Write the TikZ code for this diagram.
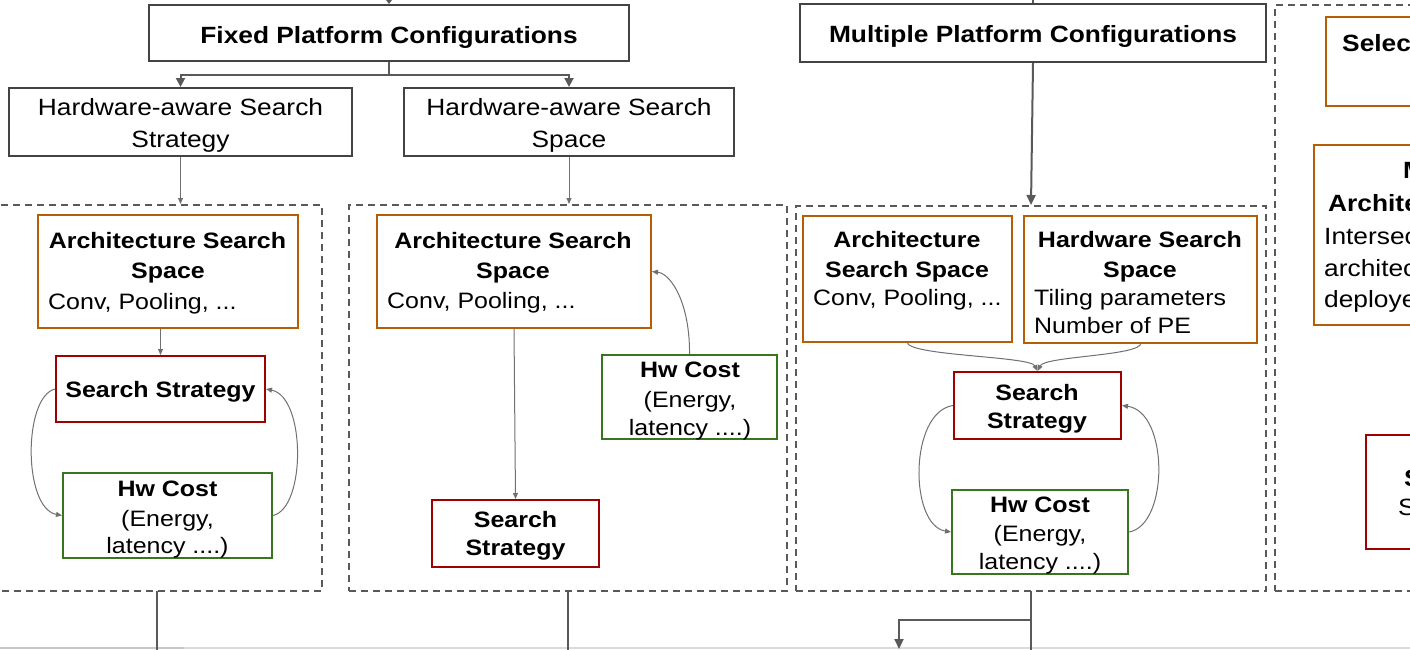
\documentclass[tikz,border=0pt]{standalone}
\usepackage{fontspec}
\usetikzlibrary{arrows.meta}
\newfontfamily\lsans[FakeStretch=1.12]{Liberation Sans}
\definecolor{bgray}{HTML}{434343}
\definecolor{lgray}{HTML}{595959}
\definecolor{agray}{HTML}{707070}
\definecolor{orng}{HTML}{B45F06}
\definecolor{dred}{HTML}{A00000}
\definecolor{dgreen}{HTML}{38761D}
\newcommand\fA{\lsans\fontsize{23.5}{30}\selectfont}
\newcommand\fB{\lsans\fontsize{22.3}{29}\selectfont}
\begin{document}
\begin{tikzpicture}[x=1pt,y=-1pt,
  box/.style={draw=#1, line width=2pt, inner sep=0pt, rectangle},
  plainbox/.style={box=bgray},
  orangebox/.style={box=orng},
  redbox/.style={box=dred},
  greenbox/.style={box=dgreen},
  dashbox/.style={draw=lgray, line width=2pt, dash pattern=on 7pt off 5pt, inner sep=0pt, rectangle},
  ta/.style={anchor=base, inner sep=0pt, font=\fA},
  tab/.style={anchor=base, inner sep=0pt, font=\fA\bfseries},
  tal/.style={anchor=base west, inner sep=0pt, font=\fA},
  talb/.style={anchor=base west, inner sep=0pt, font=\fA\bfseries},
  tb/.style={anchor=base, inner sep=0pt, font=\fB},
  tbb/.style={anchor=base, inner sep=0pt, font=\fB\bfseries},
  tbl/.style={anchor=base west, inner sep=0pt, font=\fB},
  thinarr/.style={draw=agray, line width=1pt, -{Triangle[length=6pt,width=5pt]}},
  thickline/.style={draw=lgray, line width=2pt},
  thickarr/.style={draw=lgray, line width=2pt, -{Triangle[length=10pt,width=9pt]}},
]
\useasboundingbox (0,0) rectangle (1410,649);
\clip (0,0) rectangle (1410,649);

% faint bottom edge
\draw[draw=black!14, line width=2pt] (0,648) -- (1410,648);
\draw[draw=black!22, line width=2pt] (0,648) -- (184,648);

% dashed containers
\node[dashbox, minimum width=332pt, minimum height=386pt] (d1) at (156,398) {};
\node[dashbox, minimum width=438pt, minimum height=386pt] (d2) at (568,398) {};
\node[dashbox, minimum width=470pt, minimum height=385pt] (d3) at (1031,398.5) {};
\node[dashbox, minimum width=155pt, minimum height=586pt] (d4) at (1352.5,298) {};

% top boxes
\node[plainbox, minimum width=480pt, minimum height=56pt] (fpc) at (389,33) {};
\node[tab] (fpct) at (389,43) {Fixed Platform Configurations};
\node[plainbox, minimum width=466pt, minimum height=58pt] (mpc) at (1033,33) {};
\node[tab] (mpct) at (1033,42) {Multiple Platform Configurations};

\node[plainbox, minimum width=343pt, minimum height=68pt] (ha1) at (180.5,122) {};
\node[ta] (ha1a) at (180.5,115) {Hardware-aware Search};
\node[ta] (ha1b) at (180.5,147) {Strategy};
\node[plainbox, minimum width=330pt, minimum height=68pt] (ha2) at (569,122) {};
\node[ta] (ha2a) at (569,115) {Hardware-aware Search};
\node[ta] (ha2b) at (569,147) {Space};

% top connectors
\coordinate (top1) at (389,-4);
\draw[thickline, -{Triangle[length=5pt,width=7pt]}] (top1) -- (fpc.north);
\coordinate (top2) at (1033,-4);
\draw[thickline] (top2) -- (mpc.north);
\coordinate (j1) at (389,75);
\draw[thickline] (fpc.south) -- (j1);
\draw[thickline, -{Triangle[length=9pt,width=9pt]}] (j1) -| (ha1.north);
\draw[thickline, -{Triangle[length=9pt,width=9pt]}] (j1) -| (ha2.north);
\draw[thinarr] (ha1.south) -- (ha1.south |- d1.north);
\draw[thinarr] (ha2.south) -- (ha2.south |- d2.north);
\draw[thickarr] (mpc.south) -- (d3.north);

% ---- container 1
\node[orangebox, minimum width=260pt, minimum height=113pt] (a1) at (168,271.5) {};
\node[tbb] (a1t1) at (167.5,248) {Architecture Search};
\node[tbb] (a1t2) at (168,278) {Space};
\node[tbl] (a1t3) at (48,309) {Conv, Pooling, ...};
\node[redbox, minimum width=209pt, minimum height=66pt] (s1) at (160.5,389) {};
\node[tbb] (s1t) at (160.5,397) {Search Strategy};
\node[greenbox, minimum width=209pt, minimum height=85pt] (h1) at (167.5,515.5) {};
\node[tbb] (h1t1) at (167.5,496) {Hw Cost};
\node[tb] (h1t2) at (167.5,526) {(Energy,};
\node[tb] (h1t3) at (167.5,553) {latency ....)};
\draw[thinarr] (s1.north |- a1.south) -- (s1.north);
\draw[thinarr] (s1.west) .. controls (23,397) and (23,508) .. (h1.west);
\draw[thinarr] (h1.east) .. controls (306,508) and (306,397) .. (s1.east);

% ---- container 2
\node[orangebox, minimum width=274pt, minimum height=113pt] (a2) at (514,271.5) {};
\node[tbb] (a2t1) at (513,248) {Architecture Search};
\node[tbb] (a2t2) at (513,278) {Space};
\node[tbl] (a2t3) at (387,308) {Conv, Pooling, ...};
\node[greenbox, minimum width=175pt, minimum height=84pt] (h2) at (689.5,397) {};
\node[tbb] (h2t1) at (690,377) {Hw Cost};
\node[tb] (h2t2) at (690,407) {(Energy,};
\node[tb] (h2t3) at (690,435) {latency ....)};
\node[redbox, minimum width=167pt, minimum height=67pt] (s2) at (515.5,533.5) {};
\node[tbb] (s2t1) at (515.5,527) {Search};
\node[tbb] (s2t2) at (515.5,555) {Strategy};
\draw[thinarr] (a2.south) -- (s2.north);
\draw[thinarr] (h2.north) .. controls (690,305) and (672,274) .. (a2.east);

% ---- container 3
\node[orangebox, minimum width=209pt, minimum height=126pt] (a3) at (907.5,279) {};
\node[tbb] (a3t1) at (907,247) {Architecture};
\node[tbb] (a3t2) at (907,277) {Search Space};
\node[tbl] (a3t3) at (813,305) {Conv, Pooling, ...};
\node[orangebox, minimum width=233pt, minimum height=127pt] (hs) at (1140.5,279.5) {};
\node[tbb] (hst1) at (1140,247) {Hardware Search};
\node[tbb] (hst2) at (1140,277) {Space};
\node[tbl] (hst3) at (1034,305) {Tiling parameters};
\node[tbl] (hst4) at (1034,333) {Number of PE};
\node[redbox, minimum width=167pt, minimum height=67pt] (s3) at (1037.5,405.5) {};
\node[tbb] (s3t1) at (1037,400) {Search};
\node[tbb] (s3t2) at (1037,428) {Strategy};
\node[greenbox, minimum width=176pt, minimum height=84pt] (h3) at (1040,532) {};
\node[tbb] (h3t1) at (1040,512) {Hw Cost};
\node[tb] (h3t2) at (1040,541) {(Energy,};
\node[tb] (h3t3) at (1040,569) {latency ....)};
\coordinate (a3o) at (907,342);
\coordinate (hso) at (1141,343);
\draw[thinarr] (a3o) .. controls (907,356) and (1030,356) .. (s3.north);
\draw[thinarr] (hso) .. controls (1141,356) and (1045,356) .. (s3.north);
\draw[thinarr] (s3.west) .. controls (909,412) and (909,525) .. (h3.west);
\draw[thinarr] (h3.east) .. controls (1169,525) and (1169,412) .. (s3.east);

% ---- container 4 (cut at the right edge)
\node[orangebox, minimum width=120pt, minimum height=89pt] (sel) at (1386,61.5) {};
\node[talb] (selt) at (1342,51) {Selec};
\node[orangebox, minimum width=130pt, minimum height=180pt] (mid) at (1379,235) {};
\node[talb] (midt1) at (1403,178) {M};
\node[talb] (midt2) at (1328,211) {Archite};
\node[tal] (midt3) at (1324,244) {Intersec};
\node[tal] (midt4) at (1324,276) {architec};
\node[tal] (midt5) at (1324,307) {deploye};
\node[redbox, minimum width=80pt, minimum height=114pt] (rs) at (1406,492) {};
\node[talb] (rst1) at (1404,486) {S};
\node[tal] (rst2) at (1398,515) {S};

% bottom connectors
\coordinate (b1s) at (157,591);
\coordinate (b1e) at (157,652);
\draw[thickline] (b1s) -- (b1e);
\coordinate (b2s) at (568,591);
\coordinate (b2e) at (568,652);
\draw[thickline] (b2s) -- (b2e);
\coordinate (b3s) at (1031,591);
\coordinate (b3e) at (1031,652);
\draw[thickline] (b3s) -- (b3e);
\coordinate (b3j) at (1031,620);
\coordinate (b3t) at (899,649);
\draw[thickline, -{Triangle[length=10pt,width=9pt]}] (b3j) -| (b3t);
\end{tikzpicture}
\end{document}
